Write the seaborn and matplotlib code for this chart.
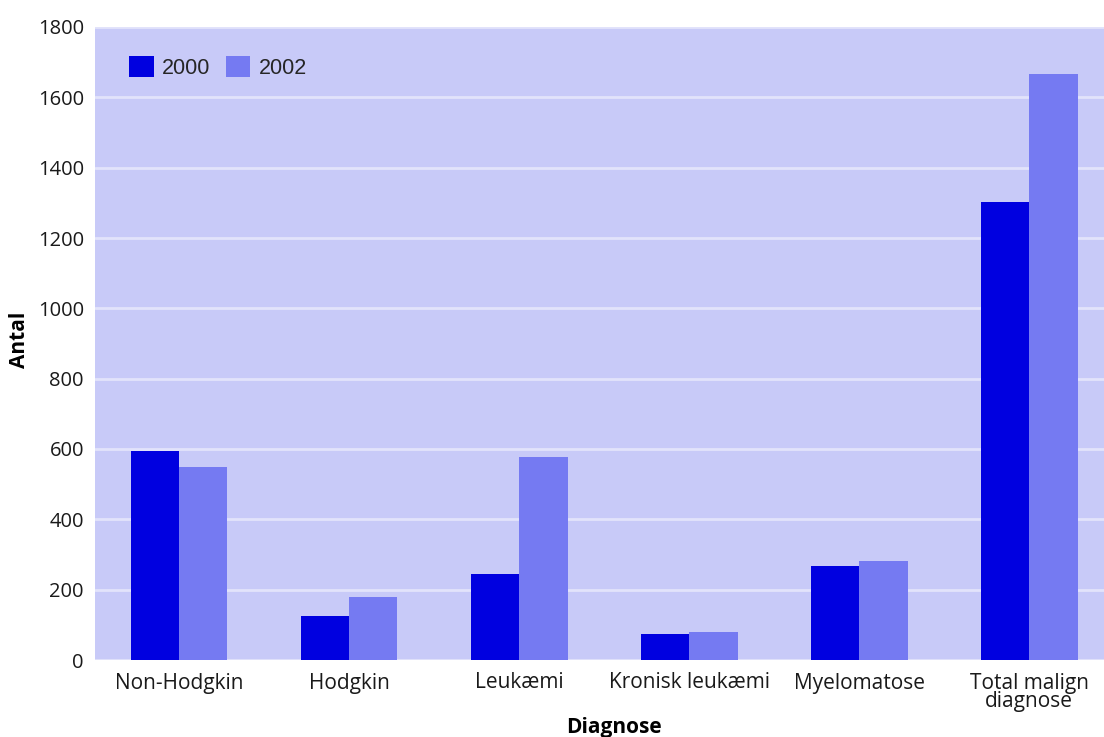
import matplotlib
matplotlib.use("Agg")
import matplotlib.pyplot as plt
import seaborn as sns
import pandas as pd
from matplotlib.patches import Patch

# Data
categories = ["Non-Hodgkin", "Hodgkin", "Leukæmi", "Kronisk leukæmi",
              "Myelomatose", "Total malign\ndiagnose"]
years = ["2000", "2002"]
values_2000 = [594, 125, 245, 74, 267, 1302]
values_2002 = [549, 179, 577, 80, 281, 1666]
y_ticks = [0, 200, 400, 600, 800, 1000, 1200, 1400, 1600, 1800]

df = pd.DataFrame({
    "Diagnose": categories * 2,
    "År": [years[0]] * len(categories) + [years[1]] * len(categories),
    "Antal": values_2000 + values_2002,
})

colors = {"2000": "#0000E0", "2002": "#757AF2"}
bg = "#C8CAF8"
grid = "#E2E3FB"

sns.set_theme(style="white")
plt.rcParams["font.family"] = ["Open Sans", "DejaVu Sans"]

fig = plt.figure(figsize=(11.04, 7.37), dpi=100)
ax = fig.add_axes([95 / 1104, 77 / 737, 1 - 95 / 1104, (660 - 27) / 737])
ax.set_facecolor(bg)

sns.barplot(data=df, x="Diagnose", y="Antal", hue="År", palette=colors,
            width=0.57, gap=0, saturation=1, linewidth=0, edgecolor="none",
            ax=ax, legend=False, zorder=3)

ax.set_ylim(0, 1800)
ax.set_yticks(y_ticks)
ax.set_xlim(-0.494, 5.44)
ax.grid(axis="y", color=grid, linewidth=2, zorder=1)
ax.set_axisbelow(True)
for s in ax.spines.values():
    s.set_visible(False)
ax.tick_params(axis="both", length=0, colors="#1a1a1a")
ax.tick_params(axis="y", pad=8, labelsize=14.5)
ax.tick_params(axis="x", pad=9, labelsize=15)
for lbl in ax.get_xticklabels():
    lbl.set_linespacing(0.85)

ax.set_xlabel("Diagnose", fontsize=15, fontweight="bold", color="black")
ax.set_ylabel("Antal", fontsize=15, fontweight="bold", color="black")
ax.xaxis.set_label_coords(0.514, -0.09)
ax.yaxis.set_label_coords(-0.064, 0.505)

handles = [Patch(facecolor=colors[y], edgecolor="none", label=y) for y in years]
ax.legend(handles=handles, loc="upper left", bbox_to_anchor=(0.034, 0.954),
          ncol=2, frameon=False, borderpad=0, borderaxespad=0,
          handlelength=1.15, handleheight=1.15,
          handletextpad=0.38, columnspacing=0.7,
          prop={"family": "Liberation Sans", "size": 15.5})

fig.savefig("out.png", dpi=100)
